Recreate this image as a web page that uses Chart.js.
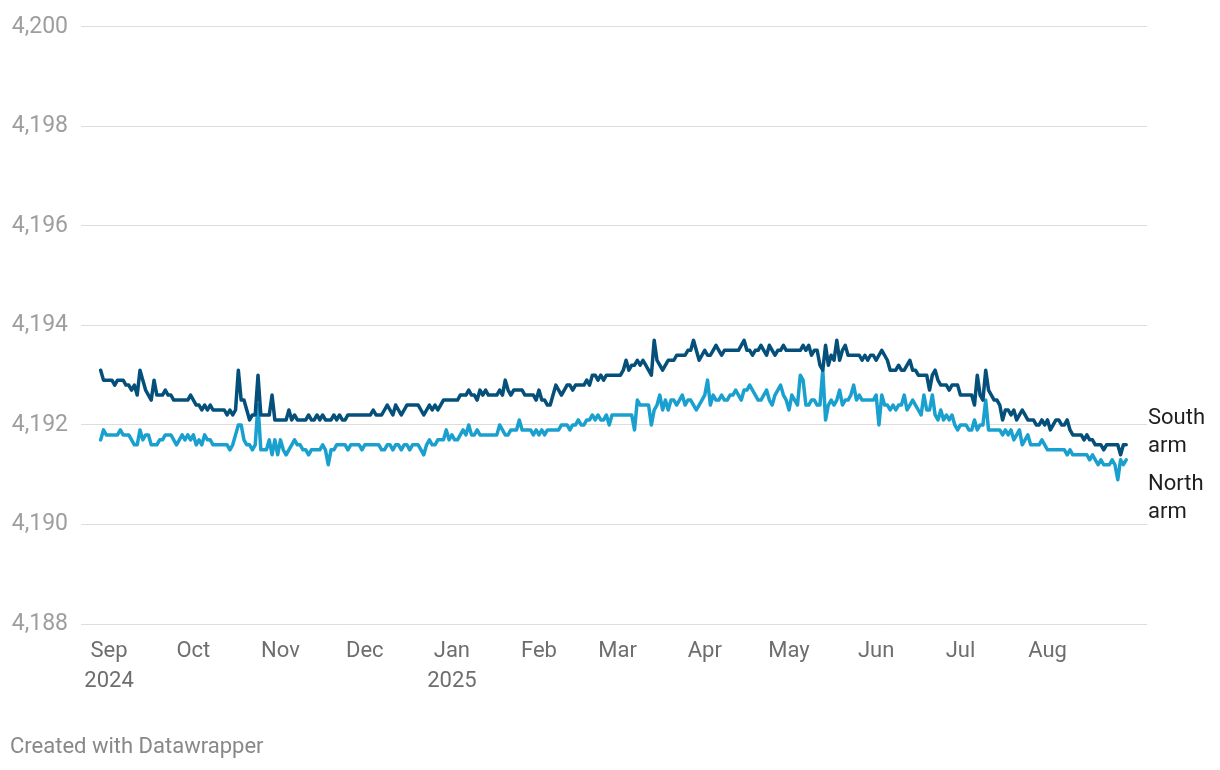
<!DOCTYPE html>
<html>
<head>
<meta charset="utf-8">
<title>Lake elevation</title>
<script src="https://cdn.jsdelivr.net/npm/chart.js@4.4.1/dist/chart.umd.min.js"></script>
<style>
  html, body { margin: 0; padding: 0; background: #fff; }
  #wrap { position: relative; width: 1220px; height: 770px; }
  #footer {
    position: absolute; left: 10px; top: 733px;
    font: 22px Roboto, sans-serif; line-height: 26px; color: #888;
  }
</style>
</head>
<body>
<div id="wrap">
  <canvas id="lakeChart" width="1220" height="770"></canvas>
  <div id="footer">Created with Datawrapper</div>
</div>
<script>
// days are counted from Sep 1, 2024; first reading is Aug 29, 2024
const firstDay = -3;

// daily elevation, south arm (ft)
const southArm = [
  4193.1, 4192.9, 4192.9, 4192.9, 4192.9, 4192.8, 4192.9, 4192.9, 4192.9, 4192.8,
  4192.8, 4192.7, 4192.8, 4192.6, 4193.1, 4192.9, 4192.7, 4192.6, 4192.5, 4192.9,
  4192.6, 4192.6, 4192.6, 4192.7, 4192.6, 4192.6, 4192.5, 4192.5, 4192.5, 4192.5,
  4192.5, 4192.5, 4192.6, 4192.5, 4192.4, 4192.4, 4192.3, 4192.4, 4192.3, 4192.4,
  4192.3, 4192.3, 4192.3, 4192.3, 4192.3, 4192.2, 4192.3, 4192.2, 4192.3, 4193.1,
  4192.5, 4192.5, 4192.3, 4192.1, 4192.2, 4192.2, 4193.0, 4192.2, 4192.2, 4192.2,
  4192.2, 4192.6, 4192.1, 4192.1, 4192.1, 4192.1, 4192.1, 4192.3, 4192.1, 4192.2,
  4192.1, 4192.1, 4192.1, 4192.1, 4192.2, 4192.1, 4192.1, 4192.2, 4192.1, 4192.2,
  4192.1, 4192.1, 4192.1, 4192.2, 4192.1, 4192.2, 4192.1, 4192.1, 4192.2, 4192.2,
  4192.2, 4192.2, 4192.2, 4192.2, 4192.2, 4192.2, 4192.2, 4192.3, 4192.2, 4192.2,
  4192.2, 4192.3, 4192.4, 4192.3, 4192.2, 4192.4, 4192.3, 4192.2, 4192.3, 4192.4,
  4192.4, 4192.4, 4192.4, 4192.4, 4192.3, 4192.2, 4192.3, 4192.4, 4192.3, 4192.4,
  4192.3, 4192.4, 4192.5, 4192.5, 4192.5, 4192.5, 4192.5, 4192.5, 4192.6, 4192.6,
  4192.6, 4192.7, 4192.6, 4192.6, 4192.5, 4192.7, 4192.6, 4192.7, 4192.6, 4192.6,
  4192.6, 4192.6, 4192.7, 4192.6, 4192.9, 4192.7, 4192.6, 4192.7, 4192.7, 4192.7,
  4192.7, 4192.6, 4192.6, 4192.6, 4192.6, 4192.5, 4192.7, 4192.5, 4192.5, 4192.4,
  4192.4, 4192.6, 4192.8, 4192.7, 4192.6, 4192.7, 4192.8, 4192.8, 4192.7, 4192.8,
  4192.8, 4192.8, 4192.8, 4192.9, 4192.8, 4193.0, 4193.0, 4192.9, 4193.0, 4192.9,
  4193.0, 4193.0, 4193.0, 4193.0, 4193.0, 4193.0, 4193.1, 4193.3, 4193.1, 4193.2,
  4193.2, 4193.3, 4193.2, 4193.3, 4193.2, 4193.1, 4193.0, 4193.7, 4193.3, 4193.2,
  4193.1, 4193.2, 4193.3, 4193.3, 4193.3, 4193.4, 4193.4, 4193.4, 4193.4, 4193.5,
  4193.5, 4193.7, 4193.5, 4193.3, 4193.4, 4193.5, 4193.4, 4193.4, 4193.5, 4193.6,
  4193.5, 4193.4, 4193.5, 4193.5, 4193.5, 4193.5, 4193.5, 4193.5, 4193.6, 4193.7,
  4193.5, 4193.5, 4193.4, 4193.5, 4193.5, 4193.6, 4193.5, 4193.4, 4193.6, 4193.5,
  4193.4, 4193.5, 4193.5, 4193.6, 4193.5, 4193.5, 4193.5, 4193.5, 4193.5, 4193.5,
  4193.6, 4193.5, 4193.6, 4193.4, 4193.5, 4193.5, 4193.2, 4193.1, 4193.6, 4193.2,
  4193.4, 4193.3, 4193.7, 4193.3, 4193.5, 4193.6, 4193.4, 4193.4, 4193.4, 4193.4,
  4193.4, 4193.3, 4193.4, 4193.3, 4193.4, 4193.4, 4193.3, 4193.4, 4193.5, 4193.4,
  4193.3, 4193.1, 4193.1, 4193.1, 4193.2, 4193.1, 4193.1, 4193.2, 4193.3, 4193.1,
  4193.1, 4193.0, 4193.0, 4193.0, 4193.0, 4192.7, 4193.0, 4193.1, 4192.9, 4192.8,
  4192.8, 4192.8, 4192.7, 4192.8, 4192.8, 4192.8, 4192.6, 4192.6, 4192.6, 4192.6,
  4192.6, 4192.4, 4193.0, 4192.6, 4192.5, 4193.1, 4192.7, 4192.6, 4192.5, 4192.5,
  4192.4, 4192.1, 4192.3, 4192.3, 4192.2, 4192.3, 4192.1, 4192.2, 4192.3, 4192.2,
  4192.1, 4192.1, 4192.1, 4192.0, 4192.0, 4192.1, 4192.0, 4192.1, 4191.9, 4192.0,
  4192.1, 4192.1, 4192.0, 4192.0, 4192.1, 4191.9, 4191.8, 4191.8, 4191.8, 4191.8,
  4191.7, 4191.8, 4191.7, 4191.7, 4191.6, 4191.6, 4191.6, 4191.5, 4191.6, 4191.6,
  4191.6, 4191.6, 4191.6, 4191.4, 4191.6, 4191.6
];

// daily elevation, north arm (ft)
const northArm = [
  4191.7, 4191.9, 4191.8, 4191.8, 4191.8, 4191.8, 4191.8, 4191.9, 4191.8, 4191.8,
  4191.8, 4191.7, 4191.6, 4191.6, 4191.9, 4191.7, 4191.8, 4191.8, 4191.6, 4191.6,
  4191.6, 4191.7, 4191.7, 4191.8, 4191.8, 4191.8, 4191.7, 4191.6, 4191.7, 4191.8,
  4191.7, 4191.8, 4191.7, 4191.8, 4191.6, 4191.7, 4191.6, 4191.8, 4191.7, 4191.7,
  4191.6, 4191.6, 4191.6, 4191.6, 4191.6, 4191.6, 4191.5, 4191.6, 4191.8, 4192.0,
  4192.0, 4191.7, 4191.6, 4191.6, 4191.5, 4191.6, 4192.4, 4191.5, 4191.5, 4191.5,
  4191.7, 4191.4, 4191.7, 4191.4, 4191.7, 4191.5, 4191.4, 4191.5, 4191.6, 4191.7,
  4191.6, 4191.6, 4191.5, 4191.5, 4191.4, 4191.5, 4191.5, 4191.5, 4191.5, 4191.6,
  4191.5, 4191.2, 4191.5, 4191.5, 4191.6, 4191.6, 4191.6, 4191.6, 4191.5, 4191.6,
  4191.6, 4191.6, 4191.6, 4191.5, 4191.6, 4191.6, 4191.6, 4191.6, 4191.6, 4191.6,
  4191.5, 4191.5, 4191.6, 4191.6, 4191.5, 4191.6, 4191.6, 4191.5, 4191.6, 4191.6,
  4191.5, 4191.6, 4191.6, 4191.6, 4191.5, 4191.4, 4191.6, 4191.7, 4191.6, 4191.6,
  4191.7, 4191.7, 4191.7, 4191.9, 4191.7, 4191.8, 4191.7, 4191.7, 4191.8, 4191.9,
  4191.8, 4192.0, 4191.8, 4191.8, 4191.9, 4191.8, 4191.8, 4191.8, 4191.8, 4191.8,
  4191.8, 4191.8, 4192.0, 4191.9, 4191.8, 4191.8, 4191.9, 4191.9, 4191.9, 4192.1,
  4191.9, 4191.9, 4191.9, 4191.9, 4191.8, 4191.9, 4191.8, 4191.9, 4191.8, 4191.9,
  4191.9, 4191.9, 4191.9, 4191.9, 4192.0, 4192.0, 4192.0, 4191.9, 4192.0, 4192.0,
  4192.1, 4192.0, 4192.0, 4192.1, 4192.1, 4192.2, 4192.1, 4192.2, 4192.1, 4192.1,
  4192.2, 4192.0, 4192.2, 4192.2, 4192.2, 4192.2, 4192.2, 4192.2, 4192.2, 4192.2,
  4191.9, 4192.5, 4192.4, 4192.4, 4192.4, 4192.4, 4192.0, 4192.3, 4192.4, 4192.6,
  4192.3, 4192.5, 4192.3, 4192.5, 4192.5, 4192.4, 4192.5, 4192.6, 4192.4, 4192.5,
  4192.5, 4192.4, 4192.3, 4192.4, 4192.5, 4192.6, 4192.9, 4192.4, 4192.6, 4192.5,
  4192.5, 4192.6, 4192.5, 4192.5, 4192.6, 4192.6, 4192.7, 4192.6, 4192.5, 4192.7,
  4192.7, 4192.8, 4192.7, 4192.6, 4192.5, 4192.5, 4192.6, 4192.7, 4192.5, 4192.4,
  4192.6, 4192.7, 4192.8, 4192.6, 4192.5, 4192.3, 4192.6, 4192.5, 4192.4, 4193.0,
  4192.9, 4192.4, 4192.4, 4192.5, 4192.5, 4192.4, 4192.4, 4193.1, 4192.1, 4192.4,
  4192.5, 4192.4, 4192.5, 4192.7, 4192.4, 4192.5, 4192.5, 4192.6, 4192.8, 4192.5,
  4192.6, 4192.5, 4192.5, 4192.5, 4192.5, 4192.5, 4192.6, 4192.0, 4192.6, 4192.4,
  4192.4, 4192.3, 4192.4, 4192.3, 4192.4, 4192.4, 4192.6, 4192.3, 4192.4, 4192.5,
  4192.4, 4192.3, 4192.2, 4192.6, 4192.3, 4192.3, 4192.6, 4192.2, 4192.1, 4192.3,
  4192.1, 4192.2, 4192.1, 4192.2, 4192.0, 4191.9, 4192.0, 4192.0, 4192.0, 4191.9,
  4191.9, 4192.1, 4191.9, 4192.0, 4192.0, 4192.5, 4191.9, 4191.9, 4191.9, 4191.9,
  4191.9, 4191.8, 4191.9, 4191.8, 4191.9, 4191.7, 4191.8, 4191.9, 4191.6, 4191.7,
  4191.8, 4191.6, 4191.6, 4191.6, 4191.6, 4191.7, 4191.6, 4191.5, 4191.5, 4191.5,
  4191.5, 4191.5, 4191.5, 4191.5, 4191.4, 4191.5, 4191.4, 4191.4, 4191.4, 4191.4,
  4191.4, 4191.4, 4191.3, 4191.4, 4191.3, 4191.2, 4191.3, 4191.2, 4191.2, 4191.2,
  4191.3, 4191.2, 4190.9, 4191.3, 4191.2, 4191.3
];

// month starts (days from Sep 1, 2024) and their labels
const monthTicks = [0, 30, 61, 91, 122, 153, 181, 212, 242, 273, 303, 334];
const monthLabels = ['Sep', 'Oct', 'Nov', 'Dec', 'Jan', 'Feb', 'Mar', 'Apr', 'May', 'Jun', 'Jul', 'Aug'];
const yearLabels = ['2024', '', '', '', '2025', '', '', '', '', '', '', ''];
const yTicks = [4188, 4190, 4192, 4194, 4196, 4198, 4200];

function toPoints(values) {
    return values.map(function (v, i) {
        return { x: firstDay + i, y: v };
    });
}

// line labels at the right end
const endLabels = {
    id: 'endLabels',
    afterDatasetsDraw(chart) {
        const ctx = chart.ctx;
        const x = chart.chartArea.right + 1;
        ctx.save();
        ctx.font = '22px Roboto';
        ctx.fillStyle = '#1f1f1f';
        ctx.textAlign = 'left';
        ctx.textBaseline = 'middle';
        ctx.fillText('South', x, 418);
        ctx.fillText('arm', x, 446);
        ctx.fillText('North', x, 484);
        ctx.fillText('arm', x, 512);
        ctx.restore();
    }
};

const ctx = document.getElementById('lakeChart').getContext('2d');
const lakeChart = new Chart(ctx, {
    type: 'line',
    data: {
        datasets: [{
            label: 'South arm',
            data: toPoints(southArm),
            borderColor: '#04507a',
            borderWidth: 3.5,
            borderJoinStyle: 'round',
            borderCapStyle: 'round',
            pointRadius: 0,
            tension: 0
        }, {
            label: 'North arm',
            data: toPoints(northArm),
            borderColor: '#1aa0cf',
            borderWidth: 3.5,
            borderJoinStyle: 'round',
            borderCapStyle: 'round',
            pointRadius: 0,
            tension: 0
        }]
    },
    options: {
        responsive: false,
        animation: false,
        layout: {
            padding: { top: 24, right: 73, bottom: 0, left: 0 }
        },
        scales: {
            x: {
                type: 'linear',
                min: -10,
                max: 369.4,
                afterBuildTicks: function (scale) {
                    scale.ticks = monthTicks.map(function (v) { return { value: v }; });
                },
                afterFit: function (scale) { scale.height = 146; },
                grid: { display: false },
                border: { display: false },
                ticks: {
                    autoSkip: false,
                    maxRotation: 0,
                    padding: 4,
                    color: '#6e6e6e',
                    font: { family: 'Roboto', size: 22, lineHeight: 1.364 },
                    callback: function (value, index) {
                        return yearLabels[index] ? [monthLabels[index], yearLabels[index]] : monthLabels[index];
                    }
                }
            },
            y: {
                min: 4188,
                max: 4200,
                afterBuildTicks: function (scale) {
                    scale.ticks = yTicks.map(function (v) { return { value: v }; });
                },
                afterFit: function (scale) { scale.width = 81; },
                grid: { color: '#dddddd', lineWidth: 1, drawTicks: false },
                border: { display: false },
                ticks: {
                    padding: 13,
                    color: '#9e9e9e',
                    font: { family: 'Roboto', size: 23 },
                    callback: function (value) { return value.toLocaleString('en-US'); }
                }
            }
        },
        plugins: {
            legend: { display: false },
            tooltip: { enabled: false }
        }
    },
    plugins: [endLabels]
});
</script>
</body>
</html>
